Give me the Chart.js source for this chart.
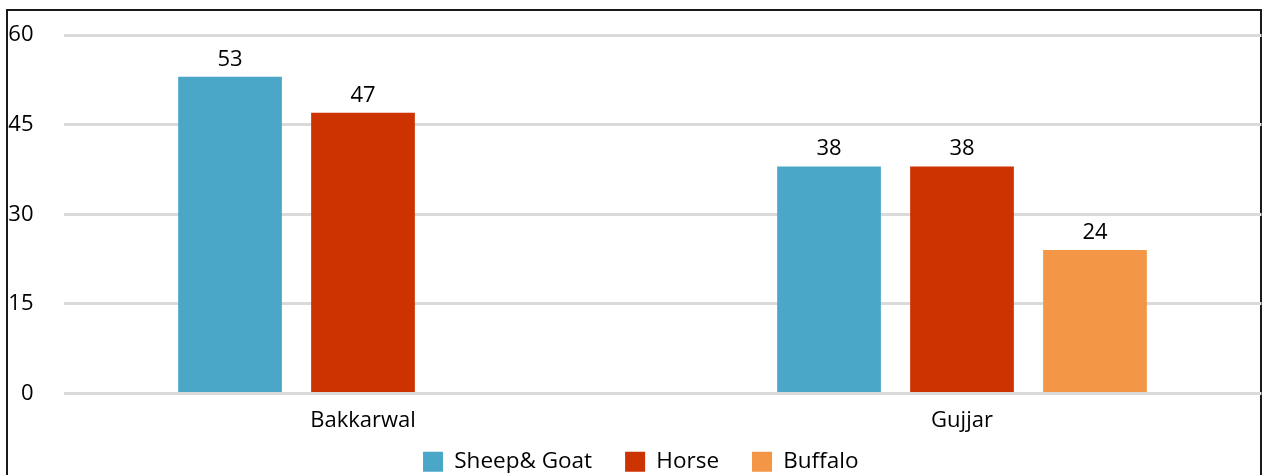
<!DOCTYPE html>
<html>
<head>
<meta charset="utf-8">
<script src="https://cdn.jsdelivr.net/npm/chart.js@4"></script>
<style>
  html, body { margin: 0; padding: 0; background: #fff; overflow: hidden; }
  body { width: 1263px; height: 475px; position: relative; }
  #frame { position: absolute; left: 6px; top: 9px; width: 1252px; height: 600px; border: 2px solid #1a1a1a; }
  #wrap { position: absolute; left: 0; top: 0; width: 1263px; height: 514px; }
</style>
</head>
<body>
<div id="frame"></div>
<div id="wrap"><canvas id="herdChart"></canvas></div>
<script>
// Livestock share by community
const communities = ['Bakkarwal', 'Gujjar'];
const sheepGoat = [53, 38];
const horse = [47, 38];
const buffalo = [null, 24];
const yTicks = [0, 15, 30, 45, 60];

const FONT = '"Open Sans", sans-serif';
const TEXT = '#000';

// prints the value above each bar
const barValues = {
  id: 'barValues',
  afterDatasetsDraw(chart) {
    const ctx = chart.ctx;
    ctx.save();
    ctx.font = '22px ' + FONT;
    ctx.fillStyle = TEXT;
    ctx.textAlign = 'center';
    ctx.textBaseline = 'alphabetic';
    chart.data.datasets.forEach((ds, i) => {
      chart.getDatasetMeta(i).data.forEach((bar, j) => {
        if (ds.data[j] == null) return;
        ctx.fillText(ds.data[j], bar.x, bar.y - 11);
      });
    });
    ctx.restore();
  }
};

// pull the legend up closer to the axis labels
const legendNudge = {
  id: 'legendNudge',
  afterLayout(chart) {
    const lg = chart.legend;
    lg.top -= 31; lg.bottom -= 31;
    lg.left += 10; lg.right += 10;
  }
};

const ctx = document.getElementById('herdChart').getContext('2d');
new Chart(ctx, {
  type: 'bar',
  data: {
    labels: communities,
    datasets: [
      { label: 'Sheep& Goat', data: sheepGoat, backgroundColor: '#4ba7c8' },
      { label: 'Horse', data: horse, backgroundColor: '#cc3300' },
      { label: 'Buffalo', data: buffalo, backgroundColor: '#f39646' }
    ]
  },
  options: {
    responsive: true,
    maintainAspectRatio: false,
    animation: false,
    categoryPercentage: 0.666,
    barPercentage: 0.78,
    layout: { padding: { top: 35, right: 1.5, left: 0, bottom: 0 } },
    plugins: {
      tooltip: { enabled: false },
      legend: {
        position: 'bottom',
        labels: {
          color: TEXT,
          font: { family: FONT, size: 22.5 },
          boxWidth: 20,
          boxHeight: 20,
          padding: 33
        }
      }
    },
    scales: {
      x: {
        grid: { display: false },
        border: { display: false },
        ticks: { color: TEXT, font: { family: FONT, size: 22 }, padding: 6 },
        afterFit(axis) { axis.height = 55; }
      },
      y: {
        min: 0,
        max: 60,
        afterBuildTicks(axis) { axis.ticks = yTicks.map(v => ({ value: v })); },
        grid: { color: '#dadada', lineWidth: 3, drawTicks: false },
        border: { display: false },
        ticks: { color: TEXT, font: { family: FONT, size: 22 }, padding: 30 },
        afterFit(axis) {
          axis.width = 63.5;
          axis.paddingTop = 0;
          axis.paddingBottom = 0;
        }
      }
    }
  },
  plugins: [barValues, legendNudge]
});
</script>
</body>
</html>
